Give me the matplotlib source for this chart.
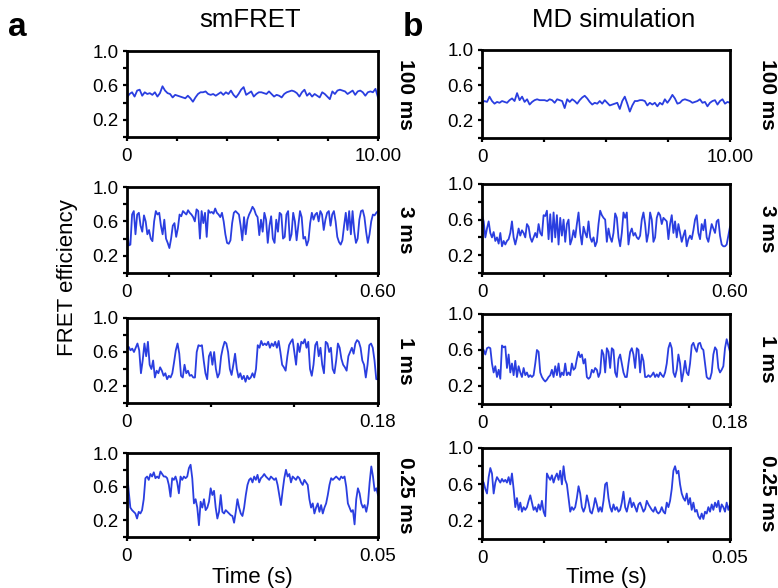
import numpy as np
import matplotlib
matplotlib.use("Agg")
import matplotlib.pyplot as plt

plt.rcParams['font.family'] = ['Liberation Sans', 'DejaVu Sans']

# ---------------- data ----------------
column_titles = ["smFRET", "MD simulation"]
panel_letters = ["a", "b"]
row_labels = ["100 ms", "3 ms", "1 ms", "0.25 ms"]
durations = [10.0, 0.6, 0.18, 0.05]
end_labels = ["10.00", "0.60", "0.18", "0.05"]
xticks_smfret = [[0, 2, 4, 6, 8, 10], [0, 0.1, 0.2, 0.3, 0.4, 0.5, 0.6],
                 [0, 0.06, 0.12, 0.18], [0, 0.0125, 0.025, 0.0375, 0.05]]
xticks_md = [[0, 2.5, 5, 7.5, 10], [0, 0.15, 0.3, 0.45, 0.6],
             [0, 0.05, 0.10, 0.15, 0.18], [0, 0.0125, 0.025, 0.0375, 0.05]]
yticks = [0, 0.2, 0.4, 0.6, 0.8, 1.0]
ytick_labels = ["", "0.2", "", "0.6", "", "1.0"]

smfret_100ms = [
    0.46, 0.50, 0.52, 0.47, 0.54, 0.55, 0.48, 0.52, 0.50, 0.51,
    0.49, 0.52, 0.47, 0.51, 0.59, 0.54, 0.51, 0.50, 0.46, 0.49,
    0.48, 0.47, 0.46, 0.45, 0.48, 0.45, 0.41, 0.46, 0.50, 0.52,
    0.52, 0.53, 0.50, 0.49, 0.50, 0.48, 0.50, 0.52, 0.49, 0.52,
    0.50, 0.54, 0.49, 0.46, 0.50, 0.55, 0.58, 0.49, 0.51, 0.53,
    0.47, 0.50, 0.52, 0.52, 0.51, 0.50, 0.53, 0.50, 0.47, 0.49,
    0.48, 0.46, 0.50, 0.52, 0.53, 0.54, 0.53, 0.51, 0.47, 0.52,
    0.55, 0.48, 0.51, 0.47, 0.50, 0.48, 0.46, 0.52, 0.50, 0.47,
    0.44, 0.53, 0.50, 0.54, 0.55, 0.54, 0.53, 0.50, 0.52, 0.54,
    0.49, 0.53, 0.54, 0.52, 0.48, 0.52, 0.53, 0.52, 0.56, 0.46]

md_100ms = [
    0.40, 0.42, 0.41, 0.47, 0.42, 0.39, 0.41, 0.40, 0.42, 0.41,
    0.40, 0.43, 0.45, 0.42, 0.51, 0.43, 0.47, 0.41, 0.44, 0.38,
    0.41, 0.43, 0.44, 0.43, 0.43, 0.43, 0.42, 0.44, 0.43, 0.40,
    0.44, 0.43, 0.42, 0.34, 0.44, 0.41, 0.44, 0.42, 0.39, 0.43,
    0.46, 0.48, 0.45, 0.41, 0.38, 0.40, 0.39, 0.42, 0.39, 0.43,
    0.40, 0.37, 0.38, 0.39, 0.40, 0.33, 0.42, 0.47, 0.39, 0.30,
    0.37, 0.42, 0.42, 0.43, 0.43, 0.42, 0.37, 0.40, 0.38, 0.40,
    0.36, 0.40, 0.38, 0.44, 0.40, 0.44, 0.49, 0.45, 0.39, 0.40,
    0.43, 0.44, 0.43, 0.42, 0.40, 0.41, 0.42, 0.44, 0.40, 0.41,
    0.36, 0.40, 0.42, 0.43, 0.38, 0.42, 0.44, 0.39, 0.41, 0.40]

smfret_3ms = [
    0.55, 0.32, 0.33, 0.68, 0.72, 0.45, 0.68, 0.70, 0.55, 0.48,
    0.67, 0.60, 0.45, 0.50, 0.40, 0.37, 0.60, 0.72, 0.68, 0.70,
    0.55, 0.45, 0.62, 0.40, 0.35, 0.29, 0.40, 0.55, 0.58, 0.42,
    0.52, 0.68, 0.66, 0.72, 0.70, 0.68, 0.73, 0.70, 0.68, 0.65,
    0.60, 0.74, 0.72, 0.40, 0.72, 0.58, 0.70, 0.42, 0.73, 0.70,
    0.71, 0.69, 0.75, 0.70, 0.68, 0.65, 0.70, 0.60, 0.45, 0.35,
    0.34, 0.38, 0.58, 0.70, 0.72, 0.70, 0.68, 0.55, 0.38, 0.65,
    0.45, 0.62, 0.68, 0.72, 0.77, 0.74, 0.68, 0.65, 0.44, 0.62,
    0.48, 0.70, 0.62, 0.35, 0.55, 0.66, 0.40, 0.35, 0.62, 0.48,
    0.70, 0.68, 0.40, 0.42, 0.68, 0.72, 0.38, 0.45, 0.70, 0.60,
    0.38, 0.55, 0.72, 0.65, 0.40, 0.42, 0.32, 0.38, 0.58, 0.70,
    0.62, 0.68, 0.70, 0.60, 0.72, 0.68, 0.50, 0.62, 0.70, 0.72,
    0.55, 0.68, 0.72, 0.60, 0.42, 0.36, 0.33, 0.38, 0.55, 0.70,
    0.50, 0.72, 0.45, 0.72, 0.48, 0.35, 0.40, 0.62, 0.72, 0.73,
    0.65, 0.48, 0.35, 0.45, 0.60, 0.68, 0.67, 0.70, 0.72]

md_3ms = [
    0.65, 0.58, 0.40, 0.50, 0.58, 0.45, 0.40, 0.46, 0.36, 0.40,
    0.33, 0.45, 0.30, 0.36, 0.32, 0.36, 0.38, 0.45, 0.58, 0.40,
    0.32, 0.40, 0.50, 0.42, 0.48, 0.45, 0.40, 0.55, 0.52, 0.40,
    0.35, 0.40, 0.45, 0.40, 0.55, 0.45, 0.42, 0.65, 0.64, 0.70,
    0.38, 0.66, 0.35, 0.68, 0.40, 0.65, 0.32, 0.62, 0.42, 0.60,
    0.35, 0.55, 0.60, 0.32, 0.38, 0.48, 0.40, 0.55, 0.68, 0.45,
    0.32, 0.52, 0.45, 0.40, 0.58, 0.40, 0.35, 0.40, 0.30, 0.35,
    0.55, 0.70, 0.65, 0.62, 0.60, 0.35, 0.50, 0.40, 0.35, 0.45,
    0.67, 0.62, 0.40, 0.30, 0.45, 0.68, 0.62, 0.68, 0.32, 0.45,
    0.50, 0.42, 0.45, 0.40, 0.38, 0.42, 0.60, 0.68, 0.55, 0.35,
    0.45, 0.68, 0.60, 0.35, 0.40, 0.62, 0.68, 0.65, 0.55, 0.62,
    0.60, 0.58, 0.38, 0.55, 0.65, 0.45, 0.58, 0.40, 0.55, 0.45,
    0.35, 0.42, 0.48, 0.30, 0.38, 0.42, 0.38, 0.48, 0.60, 0.65,
    0.45, 0.38, 0.55, 0.48, 0.60, 0.40, 0.35, 0.45, 0.55, 0.50,
    0.45, 0.58, 0.60, 0.42, 0.32, 0.30, 0.30, 0.32, 0.42, 0.52]

smfret_1ms = [
    0.63, 0.66, 0.62, 0.64, 0.60, 0.65, 0.70, 0.62, 0.35, 0.50,
    0.70, 0.55, 0.72, 0.45, 0.40, 0.50, 0.30, 0.38, 0.35, 0.42,
    0.38, 0.32, 0.35, 0.28, 0.32, 0.30, 0.35, 0.48, 0.62, 0.70,
    0.58, 0.32, 0.30, 0.45, 0.35, 0.38, 0.32, 0.33, 0.30, 0.30,
    0.60, 0.68, 0.67, 0.68, 0.50, 0.35, 0.28, 0.55, 0.60, 0.45,
    0.60, 0.40, 0.30, 0.35, 0.55, 0.65, 0.72, 0.70, 0.60, 0.40,
    0.33, 0.45, 0.58, 0.40, 0.30, 0.35, 0.28, 0.32, 0.25, 0.32,
    0.28, 0.30, 0.35, 0.30, 0.40, 0.68, 0.65, 0.73, 0.68, 0.70,
    0.68, 0.72, 0.65, 0.70, 0.67, 0.72, 0.65, 0.73, 0.60, 0.45,
    0.42, 0.38, 0.55, 0.68, 0.72, 0.75, 0.60, 0.45, 0.70, 0.60,
    0.72, 0.70, 0.75, 0.65, 0.72, 0.40, 0.32, 0.45, 0.68, 0.72,
    0.55, 0.65, 0.45, 0.35, 0.72, 0.70, 0.60, 0.65, 0.40, 0.35,
    0.50, 0.70, 0.65, 0.52, 0.45, 0.42, 0.38, 0.55, 0.60, 0.65,
    0.58, 0.70, 0.74, 0.72, 0.65, 0.50, 0.45, 0.30, 0.45, 0.68,
    0.70, 0.65, 0.50, 0.28, 0.28]

md_1ms = [
    0.62, 0.60, 0.55, 0.62, 0.63, 0.62, 0.45, 0.35, 0.42, 0.30,
    0.38, 0.28, 0.65, 0.63, 0.64, 0.40, 0.55, 0.35, 0.45, 0.32,
    0.48, 0.30, 0.42, 0.35, 0.30, 0.40, 0.32, 0.35, 0.30, 0.32,
    0.30, 0.32, 0.45, 0.60, 0.58, 0.35, 0.30, 0.27, 0.25, 0.27,
    0.30, 0.32, 0.38, 0.30, 0.42, 0.32, 0.45, 0.30, 0.35, 0.32,
    0.45, 0.32, 0.35, 0.32, 0.45, 0.38, 0.40, 0.50, 0.58, 0.52,
    0.55, 0.45, 0.50, 0.30, 0.28, 0.30, 0.38, 0.35, 0.40, 0.38,
    0.30, 0.35, 0.60, 0.55, 0.35, 0.62, 0.58, 0.40, 0.62, 0.60,
    0.35, 0.30, 0.50, 0.55, 0.45, 0.35, 0.30, 0.30, 0.45, 0.58,
    0.62, 0.55, 0.40, 0.62, 0.60, 0.35, 0.55, 0.48, 0.30, 0.30,
    0.32, 0.30, 0.32, 0.35, 0.30, 0.33, 0.30, 0.35, 0.32, 0.30,
    0.35, 0.45, 0.62, 0.68, 0.62, 0.35, 0.30, 0.38, 0.55, 0.45,
    0.25, 0.35, 0.48, 0.35, 0.32, 0.45, 0.65, 0.68, 0.62, 0.58,
    0.67, 0.68, 0.62, 0.60, 0.45, 0.30, 0.28, 0.28, 0.35, 0.55,
    0.63, 0.60, 0.40, 0.35, 0.38, 0.42, 0.62, 0.72, 0.65, 0.58]

smfret_025ms = [
    0.78, 0.55, 0.35, 0.32, 0.30, 0.28, 0.22, 0.30, 0.28, 0.32,
    0.45, 0.70, 0.72, 0.68, 0.75, 0.72, 0.77, 0.70, 0.72, 0.70,
    0.78, 0.75, 0.72, 0.72, 0.70, 0.62, 0.48, 0.70, 0.68, 0.72,
    0.65, 0.52, 0.72, 0.68, 0.72, 0.70, 0.72, 0.82, 0.86, 0.70,
    0.40, 0.45, 0.35, 0.14, 0.42, 0.35, 0.45, 0.32, 0.35, 0.42,
    0.58, 0.50, 0.55, 0.35, 0.22, 0.30, 0.50, 0.30, 0.28, 0.32,
    0.30, 0.28, 0.26, 0.25, 0.17, 0.30, 0.45, 0.35, 0.28, 0.25,
    0.35, 0.50, 0.62, 0.68, 0.70, 0.65, 0.72, 0.68, 0.74, 0.65,
    0.70, 0.72, 0.75, 0.72, 0.70, 0.68, 0.72, 0.70, 0.68, 0.70,
    0.62, 0.50, 0.38, 0.55, 0.70, 0.80, 0.72, 0.75, 0.65, 0.72,
    0.70, 0.68, 0.72, 0.70, 0.65, 0.62, 0.68, 0.65, 0.62, 0.45,
    0.35, 0.40, 0.28, 0.35, 0.40, 0.30, 0.38, 0.28, 0.35, 0.40,
    0.50, 0.62, 0.70, 0.68, 0.70, 0.72, 0.70, 0.68, 0.72, 0.70,
    0.72, 0.60, 0.40, 0.35, 0.30, 0.32, 0.15, 0.45, 0.58, 0.52,
    0.40, 0.35, 0.38, 0.30, 0.40, 0.65, 0.84, 0.72, 0.55, 0.58,
    0.50]

md_025ms = [
    0.65, 0.62, 0.55, 0.50, 0.68, 0.78, 0.72, 0.50, 0.62, 0.68,
    0.65, 0.62, 0.66, 0.63, 0.65, 0.62, 0.68, 0.60, 0.72, 0.55,
    0.35, 0.45, 0.32, 0.40, 0.30, 0.35, 0.32, 0.35, 0.42, 0.48,
    0.40, 0.32, 0.35, 0.30, 0.38, 0.32, 0.42, 0.30, 0.25, 0.72,
    0.68, 0.65, 0.70, 0.62, 0.68, 0.72, 0.65, 0.75, 0.60, 0.80,
    0.65, 0.60, 0.45, 0.30, 0.35, 0.32, 0.35, 0.45, 0.58, 0.50,
    0.35, 0.30, 0.35, 0.48, 0.40, 0.30, 0.28, 0.35, 0.45, 0.38,
    0.30, 0.35, 0.30, 0.42, 0.60, 0.62, 0.45, 0.35, 0.30, 0.38,
    0.32, 0.35, 0.30, 0.32, 0.40, 0.52, 0.35, 0.30, 0.38, 0.45,
    0.35, 0.40, 0.35, 0.30, 0.38, 0.40, 0.35, 0.30, 0.33, 0.42,
    0.38, 0.35, 0.32, 0.30, 0.35, 0.30, 0.28, 0.30, 0.35, 0.30,
    0.28, 0.40, 0.35, 0.42, 0.55, 0.75, 0.80, 0.72, 0.75, 0.60,
    0.50, 0.45, 0.42, 0.50, 0.38, 0.45, 0.32, 0.40, 0.30, 0.32,
    0.25, 0.22, 0.28, 0.22, 0.30, 0.28, 0.35, 0.30, 0.38, 0.32,
    0.40, 0.35, 0.42, 0.30, 0.38, 0.35, 0.30, 0.40, 0.32, 0.38]

smfret_traces = [smfret_100ms, smfret_3ms, smfret_1ms, smfret_025ms]
md_traces = [md_100ms, md_3ms, md_1ms, md_025ms]

# ---------------- layout ----------------
W, H = 778, 588
fig = plt.figure(figsize=(W / 100, H / 100), dpi=100)

def rect(l, r, t, b):
    return [l / W, 1 - b / H, (r - l) / W, (b - t) / H]

left_rows = [(51, 137), (187, 273), (318, 403), (453, 537)]
right_rows = [(50, 138), (184, 273), (314, 404), (448, 539)]
cols = [
    dict(l=127, r=378, rows=left_rows, traces=smfret_traces, xt=xticks_smfret, side_x=405),
    dict(l=482, r=730, rows=right_rows, traces=md_traces, xt=xticks_md, side_x=768),
]

line_color = '#2a3ee0'
tick_fs = 13.5

for c in cols:
    for i, (t, b) in enumerate(c['rows']):
        ax = fig.add_axes(rect(c['l'], c['r'], t, b))
        y = np.asarray(c['traces'][i])
        x = np.linspace(0, durations[i], len(y))
        ax.plot(x, y, color=line_color, lw=1.3)
        ax.set_xlim(0, durations[i])
        ax.set_ylim(0, 1.0)
        ax.set_yticks(yticks)
        ax.set_yticklabels(ytick_labels, fontsize=tick_fs)
        xt = c['xt'][i]
        ax.set_xticks(xt)
        ax.set_xticklabels(["0"] + [""] * (len(xt) - 2) + [end_labels[i]], fontsize=tick_fs)
        for s in ax.spines.values():
            s.set_linewidth(2.0)
            s.set_color('black')
        ax.tick_params(direction='out', length=3, width=1.6, pad=3)
        ax.tick_params(axis='x', pad=5)
        fig.text(c['side_x'] / W, 1 - ((t + b) / 2) / H, row_labels[i],
                 rotation=-90, ha='center', va='center', fontsize=15, fontweight='bold')

# titles and letters
fig.text(250 / W, 1 - 20 / H, column_titles[0], ha='center', va='center', fontsize=18.5)
fig.text(614 / W, 1 - 20 / H, column_titles[1], ha='center', va='center', fontsize=18.5)
fig.text(17 / W, 1 - 27 / H, panel_letters[0], ha='center', va='center', fontsize=24, fontweight='bold')
fig.text(413 / W, 1 - 27 / H, panel_letters[1], ha='center', va='center', fontsize=24, fontweight='bold')
fig.text(67 / W, 1 - 278 / H, "FRET efficiency", rotation=90, ha='center', va='center', fontsize=16)
fig.text(252 / W, 1 - 577 / H, "Time (s)", ha='center', va='center', fontsize=16)
fig.text(606 / W, 1 - 577 / H, "Time (s)", ha='center', va='center', fontsize=16)

fig.savefig("out.png", dpi=100)
